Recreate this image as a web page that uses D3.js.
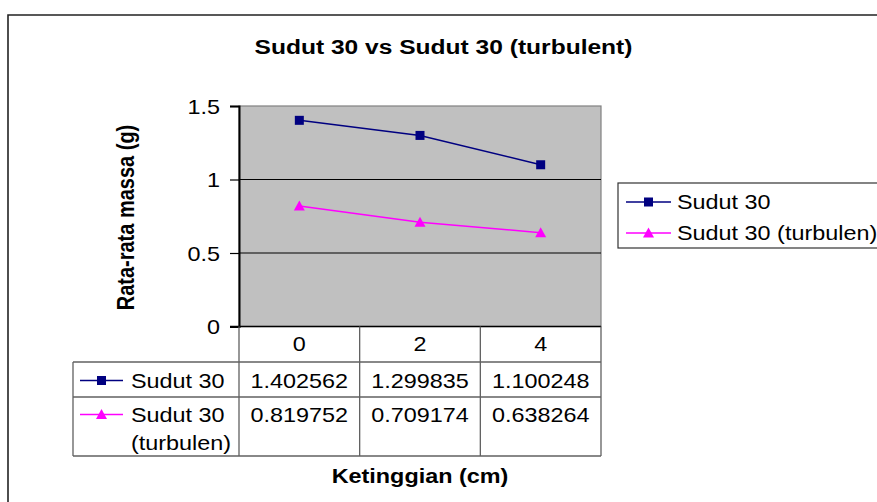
<!DOCTYPE html>
<html>
<head>
<meta charset="utf-8">
<script src="https://cdn.jsdelivr.net/npm/d3@7"></script>
<style>
  html, body { margin: 0; padding: 0; background: #fff; }
  svg { display: block; }
</style>
</head>
<body>
<div id="chart"></div>
<script>
// data
const categories = ["0", "2", "4"];
const seriesNames = ["Sudut 30", "Sudut 30 (turbulen)"];
const sudut30 = [1.402562, 1.299835, 1.100248];
const sudut30Turbulen = [0.819752, 0.709174, 0.638264];
const yTicks = [0, 0.5, 1, 1.5];
const titleText = "Sudut 30 vs Sudut 30 (turbulent)";
const yLabel = "Rata-rata massa (g)";
const xLabel = "Ketinggian (cm)";

const W = 877, H = 502;
const SX = 1.17;   // the source picture is stretched sideways
const font = "'Liberation Sans', Arial, sans-serif";
const plot = {left: 239, right: 601, top: 106, bottom: 326.5};

const svg = d3.select("#chart").append("svg")
  .attr("width", W).attr("height", H);

function txt(g, x, y, s, opts) {
  opts = opts || {};
  return g.append("text")
    .attr("transform", `translate(${x},${y}) scale(${SX},1)`)
    .attr("text-anchor", opts.anchor || "start")
    .attr("font-family", font)
    .attr("font-size", opts.size || 20)
    .attr("font-weight", opts.bold ? "bold" : "normal")
    .attr("fill", "#000")
    .text(s);
}

// outer frame
svg.append("path")
  .attr("d", `M8,${H + 5}V15H${W + 5}`)
  .attr("fill", "none").attr("stroke", "#222").attr("stroke-width", 1.6);

txt(svg, 443.5, 54, titleText, {anchor: "middle", bold: true, size: 21});

const x = d3.scaleBand().domain(categories).range([plot.left, plot.right]);
const y = d3.scaleLinear().domain([0, 1.5]).range([plot.bottom, plot.top]);

// plot area
svg.append("rect")
  .attr("x", plot.left).attr("y", plot.top)
  .attr("width", plot.right - plot.left).attr("height", plot.bottom - plot.top)
  .attr("fill", "#c0c0c0").attr("stroke", "#808080").attr("stroke-width", 1.2);

svg.append("g").selectAll("line")
  .data(yTicks.filter(d => d > 0 && d < 1.5))
  .join("line")
  .attr("x1", plot.left).attr("x2", plot.right)
  .attr("y1", d => y(d)).attr("y2", d => y(d))
  .attr("stroke", "#000").attr("stroke-width", 1);

// y axis
const yAxis = svg.append("g")
  .attr("transform", `translate(${plot.left},0)`)
  .call(d3.axisLeft(y).tickValues(yTicks).tickSize(9).tickFormat(d3.format("")));
yAxis.select(".domain").attr("stroke", "#000").attr("stroke-width", 2);
yAxis.selectAll(".tick line").attr("stroke", "#000").attr("stroke-width", 1.2);
yAxis.selectAll(".tick text").remove();
yAxis.selectAll(".tick").each(function(d) {
  txt(d3.select(this), -19, 7, d3.format("")(d), {anchor: "end"});
});

// bottom axis line
svg.append("line")
  .attr("x1", plot.left - 9).attr("x2", plot.right)
  .attr("y1", plot.bottom).attr("y2", plot.bottom)
  .attr("stroke", "#000").attr("stroke-width", 1.6);

txt(svg, 0, 0, yLabel, {anchor: "middle", bold: true})
  .attr("transform", `translate(134,217.5) rotate(-90) scale(1,${SX})`);

// series
const series = [
  {name: seriesNames[0], values: sudut30, color: "#000080", marker: "square"},
  {name: seriesNames[1], values: sudut30Turbulen, color: "#ff00ff", marker: "triangle"}
];

function marker(g, type, cx, cy, color) {
  if (type === "square") {
    g.append("rect").attr("x", cx - 4.5).attr("y", cy - 4.5)
      .attr("width", 9).attr("height", 9).attr("fill", color);
  } else {
    g.append("path")
      .attr("d", `M${cx},${cy - 5.5}L${cx + 5.5},${cy + 4.5}L${cx - 5.5},${cy + 4.5}Z`)
      .attr("fill", color);
  }
}

const line = d3.line()
  .x((d, i) => x(categories[i]) + x.bandwidth() / 2)
  .y(d => y(d));

series.forEach(s => {
  const g = svg.append("g");
  g.append("path").attr("d", line(s.values))
    .attr("fill", "none").attr("stroke", s.color).attr("stroke-width", 1.5);
  s.values.forEach((v, i) => marker(g, s.marker, x(categories[i]) + x.bandwidth() / 2, y(v), s.color));
});

// data table
const tbl = svg.append("g");
const tLeft = 73, rowH = [plot.bottom, 362, 397, 456];
const colEdges = [plot.left].concat(categories.map(c => x(c) + x.bandwidth()));
const gridColor = "#606060";
colEdges.forEach(cx => {
  tbl.append("line").attr("x1", cx).attr("x2", cx)
    .attr("y1", plot.bottom).attr("y2", rowH[3])
    .attr("stroke", gridColor).attr("stroke-width", 1.3);
});
tbl.append("line").attr("x1", tLeft).attr("x2", tLeft)
  .attr("y1", rowH[1]).attr("y2", rowH[3]).attr("stroke", gridColor).attr("stroke-width", 1.3);
rowH.slice(1).forEach(ry => {
  tbl.append("line").attr("x1", tLeft).attr("x2", plot.right)
    .attr("y1", ry).attr("y2", ry).attr("stroke", gridColor).attr("stroke-width", 1.3);
});

categories.forEach(c => {
  txt(tbl, x(c) + x.bandwidth() / 2, 351, c, {anchor: "middle"});
});

const rowBase = [387.5, 421.5];
series.forEach((s, si) => {
  const cy = rowBase[si] - 7;
  tbl.append("line").attr("x1", 80).attr("x2", 123).attr("y1", cy).attr("y2", cy)
    .attr("stroke", s.color).attr("stroke-width", 1.5);
  marker(tbl, s.marker, 101.5, cy, s.color);
  if (si === 0) {
    txt(tbl, 131, rowBase[si], s.name);
  } else {
    txt(tbl, 131, rowBase[si], "Sudut 30");
    txt(tbl, 131, 450, "(turbulen)");
  }
  s.values.forEach((v, i) => {
    txt(tbl, x(categories[i]) + x.bandwidth() / 2, rowBase[si], d3.format(".6f")(v), {anchor: "middle"});
  });
});

txt(svg, 420, 483, xLabel, {anchor: "middle", bold: true});

// legend
const lg = svg.append("g");
lg.append("rect").attr("x", 618).attr("y", 183).attr("width", 300).attr("height", 65)
  .attr("fill", "#fff").attr("stroke", "#333").attr("stroke-width", 1.2);
series.forEach((s, i) => {
  const cy = 202 + i * 31;
  lg.append("line").attr("x1", 626).attr("x2", 671).attr("y1", cy).attr("y2", cy)
    .attr("stroke", s.color).attr("stroke-width", 1.5);
  marker(lg, s.marker, 648.5, cy, s.color);
  txt(lg, 677, cy + 7, s.name);
});
</script>
</body>
</html>
